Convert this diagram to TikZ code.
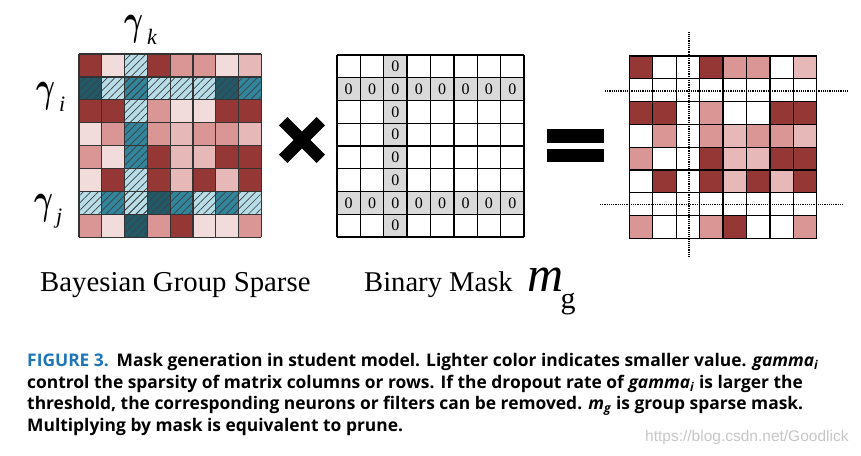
\documentclass[tikz,border=0pt]{standalone}
\usepackage{fontspec}
\setmainfont{Liberation Serif}
\newfontfamily\capfont{Open Sans}
\newfontfamily\wmfont{Liberation Sans}
\usetikzlibrary{positioning}
\usetikzlibrary{patterns.meta}

\definecolor{red1}{HTML}{953735}
\definecolor{red2}{HTML}{D99694}
\definecolor{red3}{HTML}{E6B9B8}
\definecolor{red4}{HTML}{F2DCDB}
\definecolor{teal1}{HTML}{215968}
\definecolor{teal2}{HTML}{31859C}
\definecolor{teal3}{HTML}{B7DEE8}
\definecolor{zerogray}{HTML}{D9D9D9}
\definecolor{figblue}{RGB}{30,118,185}

\newcommand{\gam}[2]{\scalebox{2.9}[4.3]{\boldmath$\gamma$}\hspace{#2}\raisebox{-10pt}{\fontsize{22}{22}\selectfont\itshape #1}}

\tikzset{
  txt/.style={inner sep=0pt},
  hatch/.style={pattern={Lines[angle=45,distance=5.3pt,line width=0.7pt]},pattern color=black!75},
  gridline/.style={line width=1.3pt},
  zero/.style={inner sep=0pt,font=\fontsize{16}{16}\selectfont},
  dotline/.style={densely dotted,line width=1.2pt},
  captext/.style={inner sep=0pt,anchor=base west,font=\capfont\bfseries\fontsize{17.4}{20}\selectfont}
}

\begin{document}
\begin{tikzpicture}[x=1pt,y=-1pt]
 \fill[white] (0,0) rectangle (861,455);
 \useasboundingbox (0,0) rectangle (861,455);

 \begin{scope}[shift={(79,54)},x=22.8pt,y=-22.9pt]
  \foreach \row [count=\j] in {
    {red1,red4,teal3,red1,red2,red2,red4,red3},
    {teal1,teal3,teal2,teal3,teal3,teal3,teal1,teal2},
    {red1,red1,teal3,red2,red4,red4,red1,red1},
    {red4,red2,teal2,red2,red3,red2,red2,red3},
    {red2,red4,teal2,red1,red3,red3,red1,red1},
    {red4,red1,teal3,red1,red3,red1,red3,red1},
    {teal3,teal2,teal3,teal1,teal2,teal3,teal2,teal3},
    {red2,red4,teal1,red2,red1,red4,red4,red2}}
   \foreach \c [count=\i] in \row
    \fill[\c] (\i-1,\j-1) rectangle (\i,\j);
  \fill[hatch] (2,0) rectangle (3,8);
  \fill[hatch] (0,1) rectangle (8,2);
  \fill[hatch] (0,6) rectangle (8,7);
  \foreach \k in {0,...,8}
   \draw[gridline,black!80] (\k,0) -- (\k,8) (0,\k) -- (8,\k);
 \end{scope}

 \node[txt,anchor=base west] (gk) at (124,34) {\gam{k}{4pt}};
 \node[txt,anchor=base west] (gi) at (36,101) {\gam{i}{4pt}};
 \node[txt,anchor=base west] (gj) at (34,213) {\gam{j}{3pt}};

 \draw[line width=12pt] (283.2,121.2) -- (320.8,158.8) (283.2,158.8) -- (320.8,121.2);

 \begin{scope}[shift={(337,55)},x=23.375pt,y=-22.75pt]
  \fill[zerogray] (2,0) rectangle (3,8) (0,1) rectangle (8,2) (0,6) rectangle (8,7);
  \foreach \i in {1,...,8} {
   \node[zero] (zr2-\i) at (\i-0.5,1.5) {0};
   \node[zero] (zr7-\i) at (\i-0.5,6.5) {0};
  }
  \foreach \j in {1,3,4,5,6,8}
   \node[zero] (zc-\j) at (2.5,\j-0.5) {0};
  \foreach \k in {0,...,8}
   \draw[gridline,black] (\k,0) -- (\k,8) (0,\k) -- (8,\k);
 \end{scope}

 \fill (547,129) rectangle (604,143);
 \fill (547,149) rectangle (604,162);

 \begin{scope}[shift={(629.3,56)},x=23.425pt,y=-22.8pt]
  \foreach \row [count=\j] in {
    {red1,white,white,red1,red2,red2,white,red3},
    {white,white,white,white,white,white,white,white},
    {red1,red1,white,red2,white,white,red1,red1},
    {white,red2,white,red2,red3,red2,red2,red3},
    {red2,white,white,red1,red3,red3,red1,red1},
    {white,red1,white,red1,red3,red1,red3,red1},
    {white,white,white,white,white,white,white,white},
    {red2,white,white,red2,red1,white,white,red2}}
   \foreach \c [count=\i] in \row
    \fill[\c] (\i-1,\j-1) rectangle (\i,\j);
  \foreach \k in {0,...,8}
   \draw[gridline,black] (\k,0) -- (\k,8) (0,\k) -- (8,\k);
 \end{scope}
 \draw[dotline] (689,31.5) -- (689,257);
 \draw[dotline] (605,91) -- (849,91);
 \draw[dotline] (600,204.3) -- (843,204.3);

 \node[txt,anchor=base west,font=\fontsize{28.8}{28.8}\selectfont] (bgs) at (40,291) {Bayesian Group Sparse};
 \node[txt,anchor=base west,font=\fontsize{28.6}{28.6}\selectfont] (binmask) at (364,291) {Binary Mask};
 \node[txt,base right=14pt of binmask,font=\fontsize{50}{50}\selectfont\itshape] (msym) {m};
 \node[txt,base right=-3pt of msym,yshift=-17pt,font=\fontsize{30}{30}\selectfont] (gsym) {g};

 \node[captext] (cap1) at (27,366) {{\color{figblue}FIGURE 3.}\hspace{0.45em}Mask generation in student model. Lighter color indicates smaller value. \textit{gamma}\textsubscript{\textit{i}}};
 \node[captext] (cap2) at (27,388) {control the sparsity of matrix columns or rows. If the dropout rate of \textit{gamma}\textsubscript{\textit{i}} is larger the};
 \node[captext] (cap3) at (27,409.5) {threshold, the corresponding neurons or filters can be removed. \textit{m}\textsubscript{\textit{g}} is group sparse mask.};
 \node[captext] (cap4) at (27,431) {Multiplying by mask is equivalent to prune.};

 \node[txt,anchor=base west,text=black!22,font=\wmfont\fontsize{15.5}{15.5}\selectfont] (wm) at (645,441) {https://blog.csdn.net/Goodlick};
\end{tikzpicture}
\end{document}
